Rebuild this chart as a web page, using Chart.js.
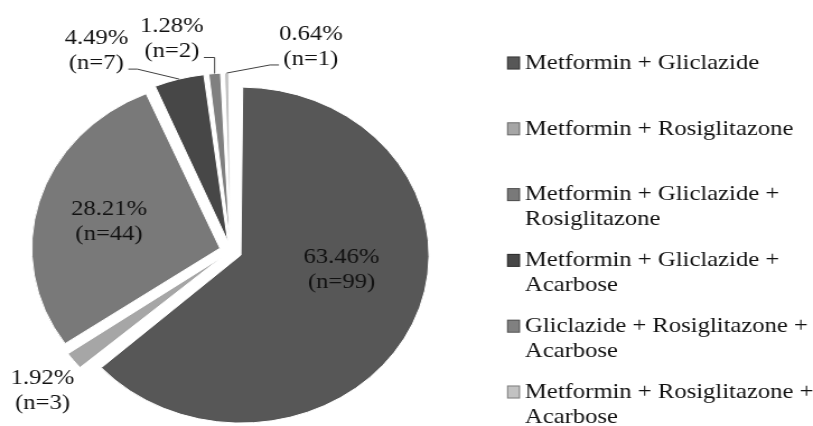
<!DOCTYPE html>
<html>
<head>
<meta charset="utf-8">
<script src="https://cdn.jsdelivr.net/npm/chart.js@4.4.1/dist/chart.umd.min.js"></script>
<style>
    html, body { margin: 0; padding: 0; background: #ffffff; overflow: hidden; }
    /* the original picture is stretched sideways, so the whole chart is too */
    #wrap { width: 726px; height: 426px; transform: scaleX(1.1198); transform-origin: 0 0; }
</style>
</head>
<body>
<div id="wrap"><canvas id="combinatieChart"></canvas></div>
<script>
const categories = [
    'Metformin + Gliclazide',
    'Metformin + Rosiglitazone',
    'Metformin + Gliclazide + Rosiglitazone',
    'Metformin + Gliclazide + Acarbose',
    'Gliclazide + Rosiglitazone + Acarbose',
    'Metformin + Rosiglitazone + Acarbose'
];
const patients = [99, 3, 44, 7, 2, 1];
const sliceColours = ['#575757', '#a6a6a6', '#797979', '#474747', '#808080', '#c2c2c2'];

// where each label sits: angle from 12 o'clock (clockwise) and distance in radii
const labelSpots = [
    { deg: 100.8, dist: 0.60, leader: false },
    { deg: 230.3, dist: 1.30, leader: false },
    { deg: 285.2, dist: 0.67, leader: false },
    { deg: 329.1, dist: 1.39, leader: true },
    { deg: 346.1, dist: 1.30, leader: true },
    { deg: 19.3, dist: 1.29, leader: true }
];

const serif = '22px "Liberation Serif"';
const textColour = '#111111';

// chart.js grows the radius of offset arcs a bit, undo that so every slice has the same radius
const keepRadius = {
    id: 'keepRadius',
    beforeDatasetsDraw: (chart) => {
        const meta = chart.getDatasetMeta(0);
        const R = meta.controller.outerRadius;
        meta.data.forEach((arc) => {
            const t = (arc.options.offset || 0) / 4;
            const fix = 1 - Math.sin(Math.min(Math.PI, arc.circumference));
            arc.outerRadius = R - t * fix;
        });
    }
};

const sliceLabels = {
    id: 'sliceLabels',
    afterDatasetsDraw: (chart) => {
        const ctx = chart.ctx;
        const meta = chart.getDatasetMeta(0);
        const R = meta.controller.outerRadius;
        const total = patients.reduce((a, b) => a + b, 0);
        ctx.save();
        ctx.font = serif;
        ctx.fillStyle = textColour;
        ctx.textAlign = 'center';
        ctx.textBaseline = 'middle';
        meta.data.forEach((arc, i) => {
            const spot = labelSpots[i];
            const a = spot.deg * Math.PI / 180;
            const lx = arc.x + Math.sin(a) * spot.dist * R;
            const ly = arc.y - Math.cos(a) * spot.dist * R;
            const top = (patients[i] / total * 100).toFixed(2) + '%';
            const bottom = '(n=' + patients[i] + ')';
            ctx.fillText(top, lx, ly - 12.5);
            ctx.fillText(bottom, lx, ly + 12.5);

            if (spot.leader) {
                const T = (arc.options.offset || 0) / 4;
                const mid = (arc.startAngle + arc.endAngle) / 2;
                const tx = arc.x + Math.cos(mid) * (R + T);
                const ty = arc.y + Math.sin(mid) * (R + T);
                const side = tx > lx ? 1 : -1;
                const sx = lx + side * (ctx.measureText(bottom).width / 2 + 4);
                const sy = ly + 18.5;
                let ex = sx + side * 8;
                if (Math.abs(ty - sy) > Math.abs(tx - sx)) ex = tx;
                ctx.beginPath();
                ctx.moveTo(sx, sy);
                ctx.lineTo(ex, sy);
                ctx.lineTo(tx, ty);
                ctx.strokeStyle = '#404040';
                ctx.lineWidth = 1;
                ctx.stroke();
            }
        });
        ctx.restore();
    }
};

const sideLegend = {
    id: 'sideLegend',
    afterDraw: (chart) => {
        const ctx = chart.ctx;
        const colours = chart.data.datasets[0].backgroundColor;
        const boxX = 452.8, boxW = 11.6, boxH = 13, textX = 468.8;
        const firstY = 63, pitch = 65.8, lineH = 25, wrapW = 268;
        ctx.save();
        ctx.font = serif;
        ctx.textAlign = 'left';
        ctx.textBaseline = 'middle';
        chart.data.labels.forEach((label, i) => {
            const y = firstY + i * pitch;
            ctx.fillStyle = colours[i];
            ctx.fillRect(boxX, y - boxH / 2, boxW, boxH);
            ctx.strokeStyle = 'rgba(0,0,0,0.35)';
            ctx.lineWidth = 1;
            ctx.strokeRect(boxX + 0.5, y - boxH / 2 + 0.5, boxW - 1, boxH - 1);

            const lines = [];
            let line = '';
            label.split(' ').forEach((word) => {
                const test = line ? line + ' ' + word : word;
                if (line && ctx.measureText(test).width > wrapW) {
                    lines.push(line);
                    line = word;
                } else {
                    line = test;
                }
            });
            lines.push(line);

            ctx.fillStyle = textColour;
            lines.forEach((txt, j) => ctx.fillText(txt, textX, y + j * lineH));
        });
        ctx.restore();
    }
};

const drawChart = () => {
    const combinatieChart = document.getElementById('combinatieChart');
    new Chart(
        combinatieChart,
        {
            type: 'pie',
            data: {
                labels: categories,
                datasets: [
                    {
                        data: patients,
                        backgroundColor: sliceColours,
                        borderColor: '#ffffff',
                        borderWidth: 1,
                        offset: 40,
                        radius: 168
                    }
                ]
            },
            options: {
                responsive: true,
                maintainAspectRatio: false,
                animation: false,
                events: [],
                layout: {
                    padding: { left: 0, right: 314, top: 76, bottom: 0 }
                },
                plugins: {
                    legend: { display: false },
                    tooltip: { enabled: false }
                }
            },
            plugins: [keepRadius, sliceLabels, sideLegend]
        }
    );
};

document.fonts.load(serif).then(drawChart, drawChart);
</script>
</body>
</html>
